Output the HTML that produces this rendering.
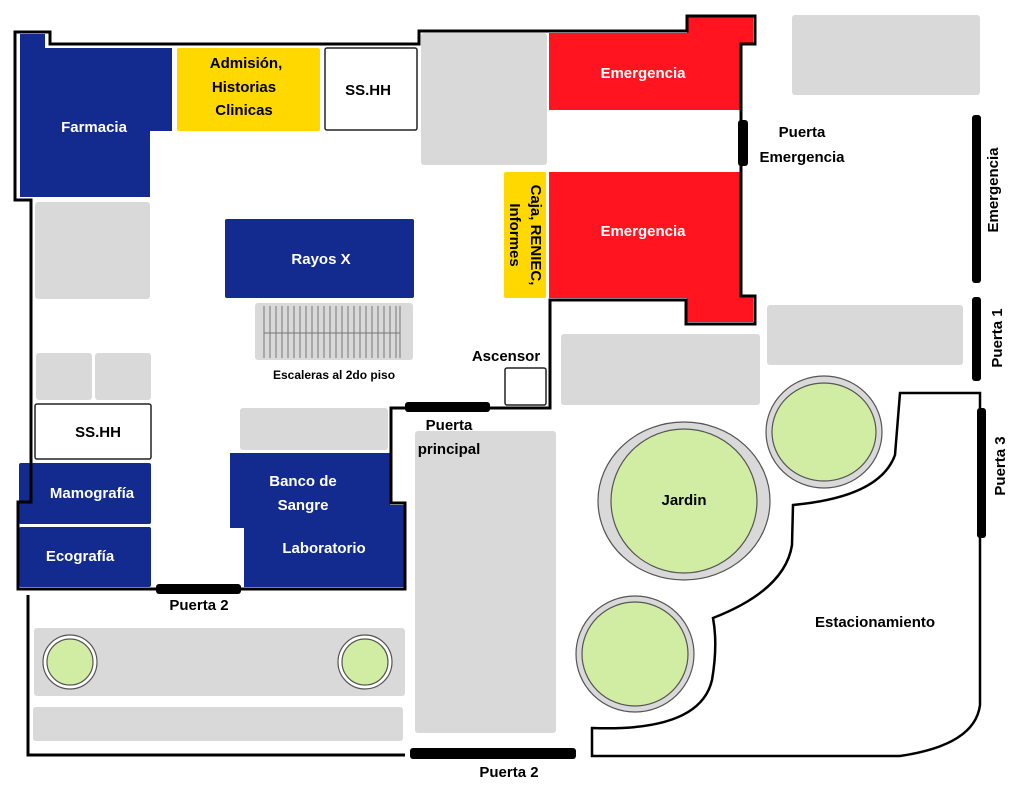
<!DOCTYPE html>
<html><head><meta charset="utf-8"><style>
html,body{margin:0;padding:0;background:#fff;}
svg{display:block;}
text{font-family:"Liberation Sans",sans-serif;font-weight:bold;font-size:15px;text-anchor:middle;}
.w{fill:#fff;}
</style></head><body>
<svg width="1024" height="795" viewBox="0 0 1024 795" xmlns="http://www.w3.org/2000/svg">
<rect x="0" y="0" width="1024" height="795" fill="#fff"/>
<!-- grays -->
<g fill="#d9d9d9">
<rect x="421" y="33" width="126" height="132" rx="3"/>
<rect x="792" y="15" width="188" height="80" rx="3"/>
<rect x="35" y="202" width="115" height="97" rx="3"/>
<rect x="36" y="353" width="56" height="47" rx="3"/>
<rect x="95" y="353" width="56" height="47" rx="3"/>
<rect x="240" y="408" width="148" height="42" rx="3"/>
<rect x="767" y="305" width="196" height="60" rx="3"/>
<rect x="561" y="334" width="199" height="71" rx="3"/>
<rect x="415" y="431" width="141" height="302" rx="3"/>
<rect x="34" y="628" width="371" height="68" rx="3"/>
<rect x="33" y="707" width="370" height="34" rx="3"/>
<rect x="255" y="303" width="158" height="57" rx="3"/>
</g>
<!-- stairs -->
<g stroke="#777" stroke-width="1">
<line x1="264" y1="333" x2="400" y2="333"/>
<path d="M264 306V358M270 306V358M276 306V358M282 306V358M288 306V358M294 306V358M300 306V358M306 306V358M312 306V358M318 306V358M324 306V358M330 306V358M336 306V358M342 306V358M348 306V358M354 306V358M360 306V358M366 306V358M372 306V358M378 306V358M384 306V358M390 306V358M396 306V358M400 306V358"/>
</g>
<!-- blue -->
<g fill="#132a8f">
<path d="M20 34H45V48H172V131H150V197H20Z"/>
<rect x="225" y="219" width="189" height="79" rx="2"/>
<rect x="19" y="463" width="132" height="61" rx="2"/>
<rect x="19" y="527" width="132" height="60" rx="2"/>
<path d="M230 453H390V505H404V587H244V528H230Z"/>
</g>
<!-- yellow -->
<rect x="177" y="48" width="143" height="83" rx="2" fill="#ffd800"/>
<rect x="504" y="172" width="42" height="126" rx="2" fill="#ffd800"/>
<!-- red -->
<g fill="#ff1420">
<path d="M549 33H687V17H753V43H740V110H549Z"/>
<path d="M549 172H740V295H753V322H687V298H549Z"/>
</g>
<!-- white boxes -->
<rect x="325" y="48" width="92" height="82" rx="2" fill="#fff" stroke="#222" stroke-width="1.5"/>
<rect x="35" y="404" width="116" height="55" rx="2" fill="#fff" stroke="#222" stroke-width="1.5"/>
<rect x="505" y="368" width="41" height="37" rx="2" fill="#fff" stroke="#222" stroke-width="1.5"/>
<!-- walls -->
<g fill="none" stroke="#000" stroke-width="3">
<path d="M15 200V32H50V44H419V31H687V16H755V44H741V296H755V324H686V300H550V408H391V503H405V589H18V502H31V200Z"/>
<path d="M28 595V755H405"/>
<path d="M900 393H980V705Q975 745 900 756H592V728Q700 732 712 680Q718 645 713 618Q785 590 792 545L793 505Q880 497 895 455L900 393Z" stroke-width="2.5"/>
</g>
<!-- doors -->
<g fill="#000">
<rect x="738" y="120" width="10" height="46" rx="3"/>
<rect x="972" y="115" width="9" height="168" rx="3"/>
<rect x="972" y="297" width="9" height="84" rx="3"/>
<rect x="977" y="408" width="9" height="130" rx="3"/>
<rect x="405" y="402" width="85" height="10" rx="3"/>
<rect x="156" y="584" width="85" height="10" rx="3"/>
<rect x="410" y="748" width="166" height="11" rx="3"/>
</g>
<!-- gardens -->
<g stroke="#555" stroke-width="1.2">
<ellipse cx="824" cy="432" rx="58" ry="56" fill="#d9d9d9"/>
<ellipse cx="824" cy="432" rx="52" ry="49" fill="#d1edA3"/>
<ellipse cx="684" cy="501" rx="86" ry="79" fill="#d9d9d9"/>
<ellipse cx="684" cy="501" rx="73" ry="72" fill="#d1eda3"/>
<ellipse cx="635" cy="654" rx="59" ry="58" fill="#d9d9d9"/>
<ellipse cx="635" cy="654" rx="53" ry="52" fill="#d1eda3"/>
<circle cx="70" cy="662" r="27" fill="#fff"/>
<circle cx="70" cy="662" r="23" fill="#d1eda3"/>
<circle cx="365" cy="662" r="27" fill="#fff"/>
<circle cx="365" cy="662" r="23" fill="#d1eda3"/>
</g>
<!-- labels -->
<g class="w">
<text x="94" y="132">Farmacia</text>
<text x="321" y="264">Rayos X</text>
<text x="92" y="498">Mamografía</text>
<text x="80" y="561">Ecografía</text>
<text x="303" y="486">Banco de</text>
<text x="303" y="510">Sangre</text>
<text x="324" y="553">Laboratorio</text>
<text x="643" y="78">Emergencia</text>
<text x="643" y="236">Emergencia</text>
</g>
<text x="246" y="68">Admisión,</text>
<text x="244" y="92">Historias</text>
<text x="244" y="115">Clinicas</text>
<text x="368" y="95">SS.HH</text>
<text x="98" y="437">SS.HH</text>
<text x="506" y="361">Ascensor</text>
<text x="334" y="379" style="font-size:12px">Escaleras al 2do piso</text>
<text x="449" y="430">Puerta</text>
<text x="449" y="454">principal</text>
<text x="199" y="610">Puerta 2</text>
<text x="509" y="777">Puerta 2</text>
<text x="802" y="137">Puerta</text>
<text x="802" y="162">Emergencia</text>
<text x="684" y="505">Jardin</text>
<text x="875" y="627">Estacionamiento</text>
<text transform="translate(531,235) rotate(90)" x="0" y="0">Caja, RENIEC,</text>
<text transform="translate(510,235) rotate(90)" x="0" y="0">Informes</text>
<text transform="translate(998,190) rotate(-90)" x="0" y="0">Emergencia</text>
<text transform="translate(1002,338) rotate(-90)" x="0" y="0">Puerta 1</text>
<text transform="translate(1005,466) rotate(-90)" x="0" y="0">Puerta 3</text>
</svg>
</body></html>
